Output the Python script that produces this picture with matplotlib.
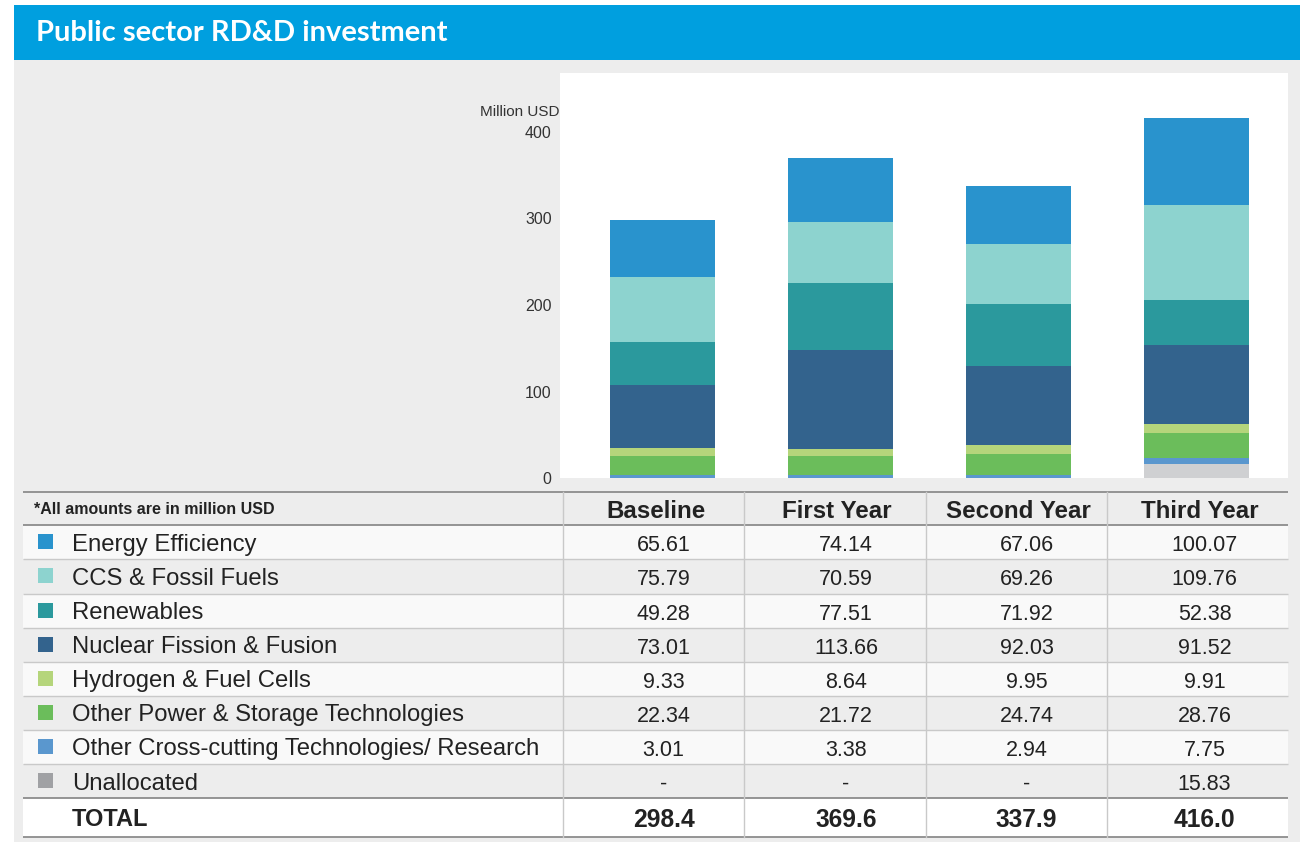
import numpy as np
import matplotlib
matplotlib.use('Agg')
import matplotlib.pyplot as plt
from matplotlib.patches import Rectangle

# Data
periods = ['Baseline', 'First Year', 'Second Year', 'Third Year']
categories = ['Energy Efficiency', 'CCS & Fossil Fuels', 'Renewables', 'Nuclear Fission & Fusion',
              'Hydrogen & Fuel Cells', 'Other Power & Storage Technologies',
              'Other Cross-cutting Technologies/ Research', 'Unallocated']
energy_efficiency = [65.61, 74.14, 67.06, 100.07]
ccs_fossil = [75.79, 70.59, 69.26, 109.76]
renewables = [49.28, 77.51, 71.92, 52.38]
nuclear = [73.01, 113.66, 92.03, 91.52]
hydrogen = [9.33, 8.64, 9.95, 9.91]
other_power = [22.34, 21.72, 24.74, 28.76]
cross_cutting = [3.01, 3.38, 2.94, 7.75]
unallocated = [None, None, None, 15.83]
totals = [298.4, 369.6, 337.9, 416.0]
y_ticks = [0, 100, 200, 300, 400]

series = [energy_efficiency, ccs_fossil, renewables, nuclear,
          hydrogen, other_power, cross_cutting, unallocated]
bar_colors = ['#2993CD', '#8DD3CF', '#2B999D', '#33638D',
              '#B5D57B', '#6BBD5B', '#5A97CE', '#CFD0D2']
legend_colors = bar_colors[:-1] + ['#A0A1A4']

W, H = 1303, 842
fig = plt.figure(figsize=(W / 100, H / 100), dpi=100)
fig.patch.set_facecolor('white')

# background canvas in pixel coordinates
bg = fig.add_axes([0, 0, 1, 1])
bg.set_xlim(0, W)
bg.set_ylim(H, 0)
bg.axis('off')

bg.add_patch(Rectangle((14, 60), 1286, 782, color='#EDEDED', lw=0))
bg.add_patch(Rectangle((14, 5), 1286, 55, color='#009FDF', lw=0))
bg.text(36, 33, 'Public sector RD&D investment', color='white', fontsize=21,
        fontfamily='Lato', fontweight='bold', va='center', ha='left')

# chart axes
ax_left, ax_right, ax_top, ax_bottom = 560, 1288, 73, 478
ax = fig.add_axes([ax_left / W, 1 - ax_bottom / H, (ax_right - ax_left) / W, (ax_bottom - ax_top) / H])
ax.set_facecolor('white')
x = np.arange(len(periods))
bottom = np.zeros(len(periods))
for vals, col in list(zip(series, bar_colors))[::-1]:
    v = np.array([0 if a is None else a for a in vals])
    ax.bar(x, v, bottom=bottom, width=0.59, color=col, linewidth=0)
    bottom += v
ax.set_xlim(-0.576, 3.514)
ax.set_ylim(0, (ax_bottom - ax_top) / 0.865)
ax.set_xticks([])
ax.set_yticks(y_ticks)
ax.set_yticklabels([str(t) for t in y_ticks], fontsize=11.5, color='#333333', fontfamily='Liberation Sans')
ax.tick_params(axis='y', length=0, pad=6)
for s in ax.spines.values():
    s.set_visible(False)
bg.text(560, 110, 'Million USD', fontsize=11, color='#333333', fontfamily='Liberation Sans',
        ha='right', va='center_baseline')

# table
row_edges = [492, 525, 559, 593.5, 627.5, 662, 696, 730, 764, 798, 837]
col_edges = [23, 563, 744, 926, 1107, 1288]
val_offset = [10, 11, 10, 7]

for i in range(len(row_edges) - 1):
    y0, y1 = row_edges[i], row_edges[i + 1]
    if i == len(row_edges) - 2:
        fc = 'white'
    elif i % 2 == 0:
        fc = '#EDEDED'
    else:
        fc = '#F9F9F9'
    bg.add_patch(Rectangle((col_edges[0], y0), col_edges[-1] - col_edges[0], y1 - y0, color=fc, lw=0))

for i, ye in enumerate(row_edges):
    dark = i in (0, 1, 9, 10)
    bg.plot([col_edges[0], col_edges[-1]], [ye, ye], color='#8C8C8C' if dark else '#C9C9C9',
            lw=1.3 if dark else 1.0, solid_capstyle='butt')
for xe in col_edges[1:-1]:
    bg.plot([xe, xe], [row_edges[0], row_edges[-1]], color='#C9C9C9', lw=1.0)

font = 'Liberation Sans'
hy = (row_edges[0] + row_edges[1]) / 2
bg.text(34, hy, '*All amounts are in million USD', fontsize=11.5, fontweight='bold',
        color='#222222', fontfamily=font, va='center_baseline')
for j, p in enumerate(periods):
    cx = (col_edges[j + 1] + col_edges[j + 2]) / 2 + 2
    bg.text(cx, hy + 1, p, fontsize=17.4, fontweight='bold', color='#222222',
            fontfamily=font, ha='center', va='center_baseline')

for i, (cat, vals) in enumerate(zip(categories, series)):
    cy = (row_edges[i + 1] + row_edges[i + 2]) / 2
    bg.add_patch(Rectangle((38, cy - 8), 15, 15, color=legend_colors[i], lw=0))
    bg.text(72, cy, cat, fontsize=17.2, color='#222222', fontfamily=font, va='center_baseline')
    for j, v in enumerate(vals):
        cx = (col_edges[j + 1] + col_edges[j + 2]) / 2 + val_offset[j]
        txt = '-' if v is None else f'{v:.2f}'
        bg.text(cx, cy + 1, txt, fontsize=15.5, color='#222222', fontfamily=font,
                ha='center', va='center_baseline')

cy = (row_edges[-2] + row_edges[-1]) / 2
bg.text(72, cy, 'TOTAL', fontsize=17, fontweight='bold', color='#222222', fontfamily=font,
        va='center_baseline')
for j, t in enumerate(totals):
    cx = (col_edges[j + 1] + col_edges[j + 2]) / 2 + val_offset[j]
    bg.text(cx, cy, f'{t:.1f}', fontsize=17.7, fontweight='bold', color='#222222',
            fontfamily=font, ha='center', va='center_baseline')

fig.savefig('out.png', dpi=100)
